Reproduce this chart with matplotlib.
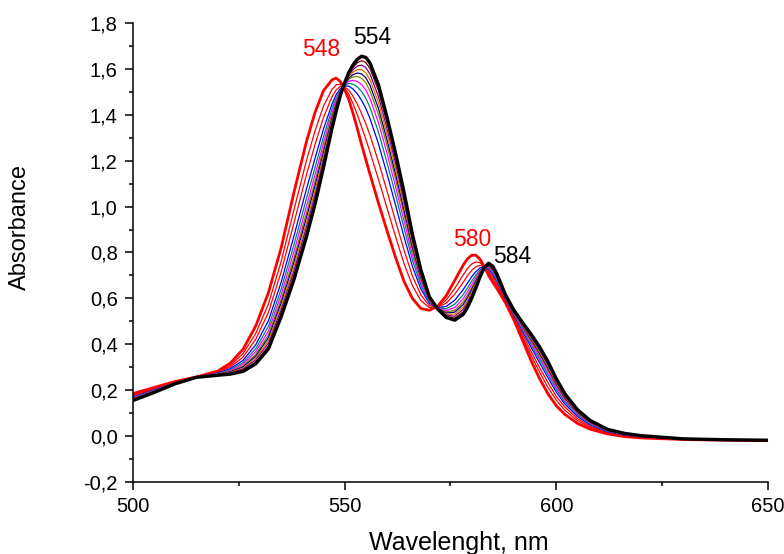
import matplotlib
matplotlib.use('Agg')
import matplotlib.pyplot as plt
from matplotlib.ticker import MultipleLocator

plt.rcParams['font.family'] = ['Liberation Sans', 'DejaVu Sans']

# wavelength grid (nm)
wl = [500, 505, 510, 515, 520, 523, 526, 529, 532, 535, 538, 541, 543, 545, 547,
      548, 549, 550, 551, 552, 553, 554, 555, 556, 558, 560, 562, 564, 566, 568,
      570, 572, 574, 576, 578, 579, 580, 581, 582, 583, 584, 585, 586, 588, 590,
      592, 594, 596, 598, 600, 602, 605, 608, 612, 616, 620, 630, 640, 650]

# first spectrum (548 / 580 nm maxima)
s00 = [.185, .212, .238, .258, .283, .318, .378, .480, .625, .820, 1.060, 1.285, 1.410, 1.505, 1.552,
       1.560, 1.545, 1.510, 1.465, 1.405, 1.340, 1.270, 1.205, 1.140, 1.015, .895, .780, .675, .600, .556,
       .548, .566, .612, .678, .745, .772, .788, .788, .770, .738, .700, .670, .642, .580, .505,
       .418, .330, .252, .185, .132, .095, .055, .030, .010, -.002, -.008, -.015, -.018, -.020]
s01 = [.179, .208, .236, .258, .279, .308, .359, .447, .576, .760, .984, 1.202, 1.330, 1.438, 1.510,
       1.531, 1.533, 1.516, 1.489, 1.448, 1.400, 1.347, 1.294, 1.237, 1.118, .994, .871, .753, .656, .590,
       .560, .563, .593, .643, .702, .730, .750, .759, .755, .737, .711, .684, .655, .587, .514,
       .433, .353, .280, .213, .156, .113, .067, .038, .014, .001, -.006, -.014, -.018, -.020]
s02 = [.175, .204, .235, .257, .277, .301, .344, .422, .539, .715, .927, 1.140, 1.270, 1.388, 1.478,
       1.509, 1.524, 1.521, 1.507, 1.480, 1.446, 1.405, 1.361, 1.310, 1.195, 1.068, .939, .812, .698, .615,
       .569, .562, .579, .618, .670, .698, .722, .738, .744, .737, .719, .695, .664, .592, .520,
       .445, .370, .300, .234, .173, .127, .076, .043, .017, .003, -.005, -.014, -.017, -.019]
s03 = [.170, .201, .233, .257, .274, .294, .330, .398, .503, .670, .870, 1.078, 1.210, 1.338, 1.446,
       1.488, 1.515, 1.525, 1.525, 1.512, 1.491, 1.463, 1.428, 1.383, 1.273, 1.143, 1.008, .870, .740, .641,
       .578, .560, .565, .592, .638, .666, .694, .717, .733, .737, .727, .705, .674, .598, .527,
       .457, .388, .321, .255, .191, .140, .085, .049, .020, .005, -.003, -.014, -.017, -.019]
s04 = [.167, .199, .232, .257, .272, .289, .320, .381, .478, .640, .832, 1.036, 1.170, 1.304, 1.425,
       1.473, 1.509, 1.528, 1.537, 1.533, 1.521, 1.501, 1.472, 1.431, 1.324, 1.192, 1.053, .909, .768, .657,
       .583, .558, .555, .574, .616, .645, .675, .702, .725, .736, .732, .712, .680, .601, .531,
       .464, .399, .335, .269, .203, .149, .091, .053, .022, .006, -.002, -.013, -.017, -.019]
s05 = [.165, .197, .231, .257, .271, .285, .313, .368, .458, .616, .802, 1.003, 1.138, 1.277, 1.408,
       1.461, 1.504, 1.530, 1.547, 1.550, 1.545, 1.532, 1.508, 1.470, 1.365, 1.232, 1.089, .940, .790, .671,
       .588, .557, .547, .560, .599, .628, .660, .691, .719, .736, .736, .718, .685, .604, .534,
       .470, .408, .346, .280, .212, .156, .096, .056, .024, .008, -.001, -.013, -.017, -.019]
s06 = [.163, .196, .231, .257, .270, .282, .306, .356, .441, .595, .775, .974, 1.110, 1.254, 1.393,
       1.451, 1.500, 1.533, 1.555, 1.565, 1.567, 1.559, 1.539, 1.504, 1.401, 1.266, 1.121, .968, .810, .683,
       .592, .556, .541, .548, .584, .613, .647, .681, .714, .736, .740, .723, .689, .606, .537,
       .476, .416, .356, .290, .221, .163, .100, .059, .025, .009, -.001, -.013, -.017, -.019]
s07 = [.161, .194, .230, .256, .269, .280, .301, .348, .429, .580, .756, .953, 1.090, 1.237, 1.382,
       1.444, 1.497, 1.534, 1.561, 1.575, 1.582, 1.578, 1.561, 1.528, 1.427, 1.291, 1.144, .987, .824, .691,
       .595, .556, .536, .540, .573, .602, .638, .674, .710, .736, .742, .726, .692, .608, .539,
       .480, .422, .362, .297, .226, .167, .103, .060, .026, .009, .000, -.013, -.016, -.018]
s08 = [.160, .193, .230, .256, .268, .277, .296, .340, .417, .565, .737, .932, 1.070, 1.220, 1.372,
       1.437, 1.494, 1.536, 1.567, 1.586, 1.597, 1.597, 1.583, 1.552, 1.453, 1.316, 1.167, 1.007, .838, .700,
       .598, .555, .531, .531, .562, .592, .628, .667, .706, .735, .745, .730, .696, .610, .542,
       .483, .428, .369, .304, .232, .172, .106, .062, .027, .010, .001, -.012, -.016, -.018]
s09 = [.158, .192, .229, .256, .267, .275, .292, .332, .405, .550, .718, .912, 1.050, 1.204, 1.361,
       1.430, 1.491, 1.537, 1.573, 1.597, 1.612, 1.617, 1.606, 1.577, 1.479, 1.341, 1.190, 1.026, .852, .708,
       .601, .554, .527, .522, .552, .581, .619, .659, .703, .735, .748, .733, .699, .612, .544,
       .487, .434, .376, .311, .238, .176, .109, .064, .028, .011, .001, -.012, -.016, -.018]
s10 = [.157, .191, .229, .256, .266, .272, .287, .323, .392, .535, .699, .891, 1.030, 1.187, 1.351,
       1.422, 1.488, 1.539, 1.579, 1.607, 1.627, 1.636, 1.628, 1.601, 1.504, 1.365, 1.212, 1.046, .866, .717,
       .604, .554, .522, .514, .541, .571, .609, .652, .699, .735, .750, .737, .702, .613, .546,
       .491, .439, .383, .318, .244, .181, .112, .066, .029, .011, .002, -.012, -.016, -.018]
# last spectrum (554 / 584 nm maxima)
s11 = [.155, .190, .228, .256, .265, .270, .282, .315, .380, .520, .680, .870, 1.010, 1.170, 1.340,
       1.415, 1.485, 1.540, 1.585, 1.618, 1.642, 1.655, 1.650, 1.625, 1.530, 1.390, 1.235, 1.065, .880, .725,
       .607, .553, .517, .505, .530, .560, .600, .645, .695, .735, .753, .740, .705, .615, .548,
       .495, .445, .390, .325, .250, .185, .115, .068, .030, .012, .002, -.012, -.016, -.018]

spectra = [s00, s01, s02, s03, s04, s05, s06, s07, s08, s09, s10, s11]
colors = ['#FF0000', '#FF0000', '#FF0000', '#0000FF', '#008080', '#FF00FF',
          '#808000', '#000080', '#E07000', '#800080', '#800000', '#000000']
widths = [2.0, 0.9, 0.9, 0.9, 0.9, 0.9, 0.9, 0.9, 0.9, 0.9, 0.9, 2.4]

yticks = [-0.2, 0.0, 0.2, 0.4, 0.6, 0.8, 1.0, 1.2, 1.4, 1.6, 1.8]
ytick_labels = ['-0,2', '0,0', '0,2', '0,4', '0,6', '0,8', '1,0', '1,2', '1,4', '1,6', '1,8']
xticks = [500, 550, 600, 650]

# peak labels: text, x, y, colour
peak_labels = [('548', 544.4, 1.685, 'red'), ('554', 556.6, 1.735, 'black'),
               ('580', 580.2, 0.855, 'red'), ('584', 589.6, 0.782, 'black')]

for s in spectra:
    assert len(s) == len(wl)

fig = plt.figure(figsize=(7.84, 5.54), dpi=100)
ax = fig.add_axes([0.1696, 0.130, 0.81, 0.8285])

for s, c, w in zip(spectra, colors, widths):
    ax.plot(wl, s, color=c, lw=w)

for txt, x, y, c in peak_labels:
    ax.text(x, y, txt, color=c, fontsize=16.5, ha='center', va='center')

ax.set_xlim(500, 650)
ax.set_ylim(-0.2, 1.8)
ax.set_xticks(xticks)
ax.set_yticks(yticks)
ax.set_yticklabels(ytick_labels)
ax.xaxis.set_minor_locator(MultipleLocator(25))
ax.yaxis.set_minor_locator(MultipleLocator(0.1))
ax.tick_params(which='major', direction='out', length=6, width=1.1, labelsize=14.5, pad=5)
ax.tick_params(which='minor', direction='out', length=3, width=1.1)
ax.spines['top'].set_visible(False)
ax.spines['right'].set_visible(False)
ax.spines['left'].set_linewidth(1.1)
ax.spines['bottom'].set_linewidth(1.1)

ax.set_xlabel('Wavelenght, nm', fontsize=18, va='center')
ax.xaxis.set_label_coords(0.5126, -0.133)
ax.set_ylabel('Absorbance', fontsize=17, va='center')
ax.yaxis.set_label_coords(-0.178, 0.556)

fig.savefig('out.png', dpi=100)
